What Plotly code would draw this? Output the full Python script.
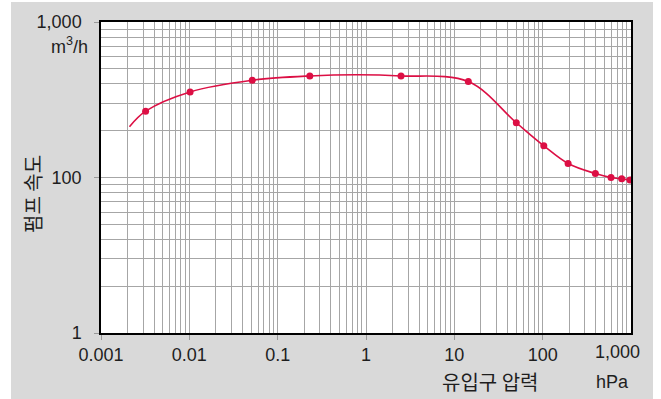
import plotly.graph_objects as go

# Data (pressure hPa, pumping speed m3/h on chart scale)
marker_pressure = [0.0032, 0.0102, 0.0516, 0.231, 2.49, 14.4, 50.3, 103, 194, 395, 594, 785, 975]
marker_speed = [267, 355, 422, 450, 450, 414, 225, 160, 123, 106, 100, 98, 96.4]

curve_pressure = [0.0021, 0.0032, 0.0102, 0.0516, 0.231, 0.8, 2.49, 14.4, 50.3, 103, 194, 395, 594, 785, 975]
curve_speed = [212, 267, 355, 422, 450, 458, 450, 414, 225, 160, 123, 106, 100, 98, 96.4]

x_tick_vals = [0.001, 0.01, 0.1, 1, 10, 100]
x_tick_text = ["0.001", "0.01", "0.1", "1", "10", "100"]
y_tick_vals = [10, 100, 1000]
y_tick_text = ["1", "100", "1,000"]

RED = "#dc0f44"
TXT = "#1e1e1e"
GRID = "#a6a6a6"
FONT = "Liberation Sans, Noto Sans CJK KR, sans-serif"
KFONT = "Noto Sans CJK KR, sans-serif"

fig = go.Figure()
fig.add_trace(go.Scatter(x=curve_pressure, y=curve_speed, mode="lines",
                         line=dict(color=RED, width=1.6, shape="spline", smoothing=1.0),
                         hoverinfo="skip", showlegend=False))
fig.add_trace(go.Scatter(x=marker_pressure, y=marker_speed, mode="markers",
                         marker=dict(color=RED, size=7), showlegend=False))

fig.update_xaxes(type="log", range=[-3, 3], tickvals=x_tick_vals, ticktext=x_tick_text,
                 showgrid=True, gridcolor=GRID, gridwidth=1.2,
                 minor=dict(showgrid=True, gridcolor=GRID, gridwidth=1.2,
                            dtick="D1", ticks=""),
                 ticks="outside", ticklen=5, tickcolor="#999999", tickwidth=1,
                 showline=True, linecolor="black", linewidth=1.5, mirror=True,
                 zeroline=False, ticklabelstandoff=0,
                 tickfont=dict(family=FONT, size=18, color=TXT))
fig.update_yaxes(type="log", range=[1, 3], tickvals=y_tick_vals, ticktext=y_tick_text,
                 showgrid=True, gridcolor=GRID, gridwidth=1.2,
                 minor=dict(showgrid=True, gridcolor=GRID, gridwidth=1.2,
                            dtick="D1", ticks=""),
                 ticks="outside", ticklen=5, tickcolor="#999999", tickwidth=1,
                 showline=True, linecolor="black", linewidth=1.5, mirror=True,
                 zeroline=False, ticklabelstandoff=9,
                 tickfont=dict(family=FONT, size=18, color=TXT))

annotations = [
    dict(text="m<sup>3</sup>/h", x=90, y=45, showarrow=False,
         xanchor="right", yanchor="middle", font=dict(family=FONT, size=18, color=TXT)),
    dict(text="1,000", x=617, y=352, showarrow=False, xanchor="center", yanchor="middle",
         font=dict(family=FONT, size=18, color=TXT)),
    dict(text="유입구 압력", x=490, y=381, showarrow=False, xanchor="center", yanchor="middle",
         font=dict(family=KFONT, size=20, color=TXT)),
    dict(text="hPa", x=612, y=382, showarrow=False, xanchor="center", yanchor="middle",
         font=dict(family=FONT, size=18, color=TXT)),
    dict(text="펌프 속도", x=32, y=194, showarrow=False, textangle=-90,
         xanchor="center", yanchor="middle",
         font=dict(family=KFONT, size=20, color=TXT)),
]

W, H = 661, 399
L, R, T, B = 101, 30, 22, 66
pw, ph = W - L - R, H - T - B

def px_to_paper(px, py):
    return (px - L) / pw, 1 - (py - T) / ph

ann_out = []
for a in annotations:
    ax, ay = px_to_paper(a["x"], a["y"])
    a = dict(a)
    a["x"], a["y"] = ax, ay
    a["xref"], a["yref"] = "paper", "paper"
    ann_out.append(a)

shapes = []
for (x0, y0, x1, y1) in [(0, 0, 11, H), (653, 0, W, H), (0, 0, W, 2)]:
    px0, py0 = px_to_paper(x0, y0)
    px1, py1 = px_to_paper(x1, y1)
    shapes.append(dict(type="rect", xref="paper", yref="paper", x0=px0, x1=px1, y0=py1, y1=py0,
                       fillcolor="white", line=dict(width=0), layer="above"))

fig.update_layout(width=W, height=H, margin=dict(l=L, r=R, t=T, b=B),
                  paper_bgcolor="#d9d9d9", plot_bgcolor="white",
                  annotations=ann_out, shapes=shapes, showlegend=False)

fig.write_html("out.html", config={"displayModeBar": False},
               post_script="document.body.style.margin='0';document.body.style.overflow='hidden';")
